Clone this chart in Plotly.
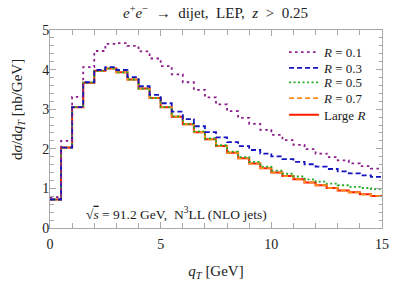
import plotly.graph_objects as go

# bin lower edges of q_T [GeV] (bin width 0.5 GeV), last edge closes the histogram
qT_edges = [0.0, 0.5, 1.0, 1.5, 2.0, 2.5, 3.0, 3.5, 4.0, 4.5,
            5.0, 5.5, 6.0, 6.5, 7.0, 7.5, 8.0, 8.5, 9.0, 9.5,
            10.0, 10.5, 11.0, 11.5, 12.0, 12.5, 13.0, 13.5, 14.0, 14.5, 15.0]

R01 = [0.78, 2.20, 3.31, 4.06, 4.47, 4.65, 4.67, 4.60, 4.46, 4.28,
       4.09, 3.88, 3.68, 3.49, 3.30, 3.12, 2.95, 2.78, 2.63, 2.48,
       2.35, 2.22, 2.10, 1.99, 1.88, 1.79, 1.71, 1.63, 1.56, 1.50]
R03 = [0.72, 2.03, 3.05, 3.68, 3.99, 4.06, 3.99, 3.81, 3.58, 3.36,
       3.15, 2.94, 2.75, 2.57, 2.42, 2.29, 2.17, 2.07, 1.97, 1.88,
       1.81, 1.74, 1.67, 1.61, 1.55, 1.49, 1.43, 1.38, 1.33, 1.29]
R05 = [0.72, 2.03, 3.05, 3.67, 3.97, 4.03, 3.93, 3.75, 3.52, 3.28,
       3.05, 2.82, 2.63, 2.44, 2.26, 2.09, 1.93, 1.79, 1.67, 1.55,
       1.45, 1.37, 1.30, 1.23, 1.17, 1.12, 1.08, 1.04, 1.01, 0.98]
R07 = [0.72, 2.03, 3.05, 3.67, 3.97, 4.03, 3.93, 3.75, 3.52, 3.28,
       3.05, 2.81, 2.62, 2.42, 2.24, 2.07, 1.90, 1.76, 1.63, 1.51,
       1.40, 1.31, 1.23, 1.15, 1.08, 1.01, 0.95, 0.90, 0.85, 0.81]
LargeR = [0.72, 2.03, 3.05, 3.67, 3.97, 4.03, 3.93, 3.75, 3.52, 3.28,
          3.05, 2.81, 2.62, 2.42, 2.24, 2.07, 1.90, 1.76, 1.63, 1.51,
          1.40, 1.31, 1.23, 1.15, 1.08, 1.01, 0.95, 0.90, 0.85, 0.81]

x_ticks = [0, 5, 10, 15]
y_ticks = [0, 1, 2, 3, 4, 5]

FONT = "Liberation Serif"
GRAY = "#A8A8A8"

# (name, values, colour, dash, width, legend id, legend row paper-y)
series = [
    ("Large <i>R</i>", LargeR, "#FF1A00", None, 2.0, "legend5", 0.572),
    ("<i>R</i> = 0.7", R07, "#FF8C1A", "5px,3px", 1.8, "legend4", 0.656),
    ("<i>R</i> = 0.5", R05, "#22AA22", "2px,2.5px", 1.8, "legend3", 0.735),
    ("<i>R</i> = 0.3", R03, "#1515C0", "5px,3px", 1.8, "legend2", 0.808),
    ("<i>R</i> = 0.1", R01, "#8B1C8B", "2.5px,3.5px", 1.8, "legend", 0.888),
]

fig = go.Figure()
legends = {}
for name, vals, color, dash, w, leg, ly in series:
    fig.add_trace(go.Scatter(
        x=qT_edges, y=vals + [vals[-1]],
        mode="lines", line_shape="hv", name=name, legend=leg,
        line=dict(color=color, width=w, dash=dash if dash else "solid"),
    ))
    legends[leg] = dict(x=0.705, y=ly, xanchor="left", yanchor="middle",
                        bgcolor="rgba(0,0,0,0)",
                        font=dict(family=FONT, size=13, color="#222"),
                        itemwidth=30)

axis_common = dict(
    showline=True, linecolor=GRAY, linewidth=1, mirror="allticks",
    ticks="inside", tickcolor=GRAY, ticklen=6, tickwidth=1,
    showgrid=False, zeroline=False, ticklabeloverflow="allow",
    tickfont=dict(family=FONT, size=14, color="#222"),
)

fig.update_xaxes(range=[0, 15], tickvals=x_ticks, ticklabelstandoff=3,
                 minor=dict(dtick=1, ticks="inside", ticklen=5, tickcolor=GRAY),
                 title=dict(text="<i>q</i><sub><i>T</i></sub> [GeV]",
                            font=dict(family=FONT, size=15, color="#222"), standoff=14),
                 **axis_common)
fig.update_yaxes(range=[0, 5], tickvals=y_ticks, ticklabelstandoff=-3,
                 minor=dict(dtick=0.2, ticks="inside", ticklen=3.5, tickcolor=GRAY),
                 **axis_common)

fig.add_annotation(
    text="d<i>σ</i>/d<i>q</i><sub><i>T</i></sub> [nb/GeV]",
    xref="paper", yref="paper", x=-0.097, y=0.6, textangle=-90,
    showarrow=False, font=dict(family=FONT, size=15, color="#222"),
    xanchor="center", yanchor="middle",
)
fig.add_annotation(
    text="√<span style='text-decoration:overline'><i>s</i></span> = 91.2 GeV,&nbsp; N<sup>3</sup>LL (NLO jets)",
    xref="paper", yref="paper", x=0.103, y=0.075,
    showarrow=False, xanchor="left", yanchor="middle",
    font=dict(family=FONT, size=13.5, color="#222"),
)

fig.update_layout(
    width=399, height=286,
    margin=dict(l=50, r=10, t=30, b=47),
    paper_bgcolor="white", plot_bgcolor="white",
    title=dict(text="<i>e</i><sup>+</sup><i>e</i><sup>−</sup> &nbsp;→&nbsp; dijet,&nbsp; LEP,&nbsp; <i>z</i> &nbsp;>&nbsp; 0.25",
               x=0.54, xanchor="center", y=0.955, yanchor="middle",
               font=dict(family=FONT, size=15, color="#222")),
    showlegend=True,
    **legends,
)

fig.write_html("out.html", post_script="document.body.style.margin='0';",
               config={"displayModeBar": False})
